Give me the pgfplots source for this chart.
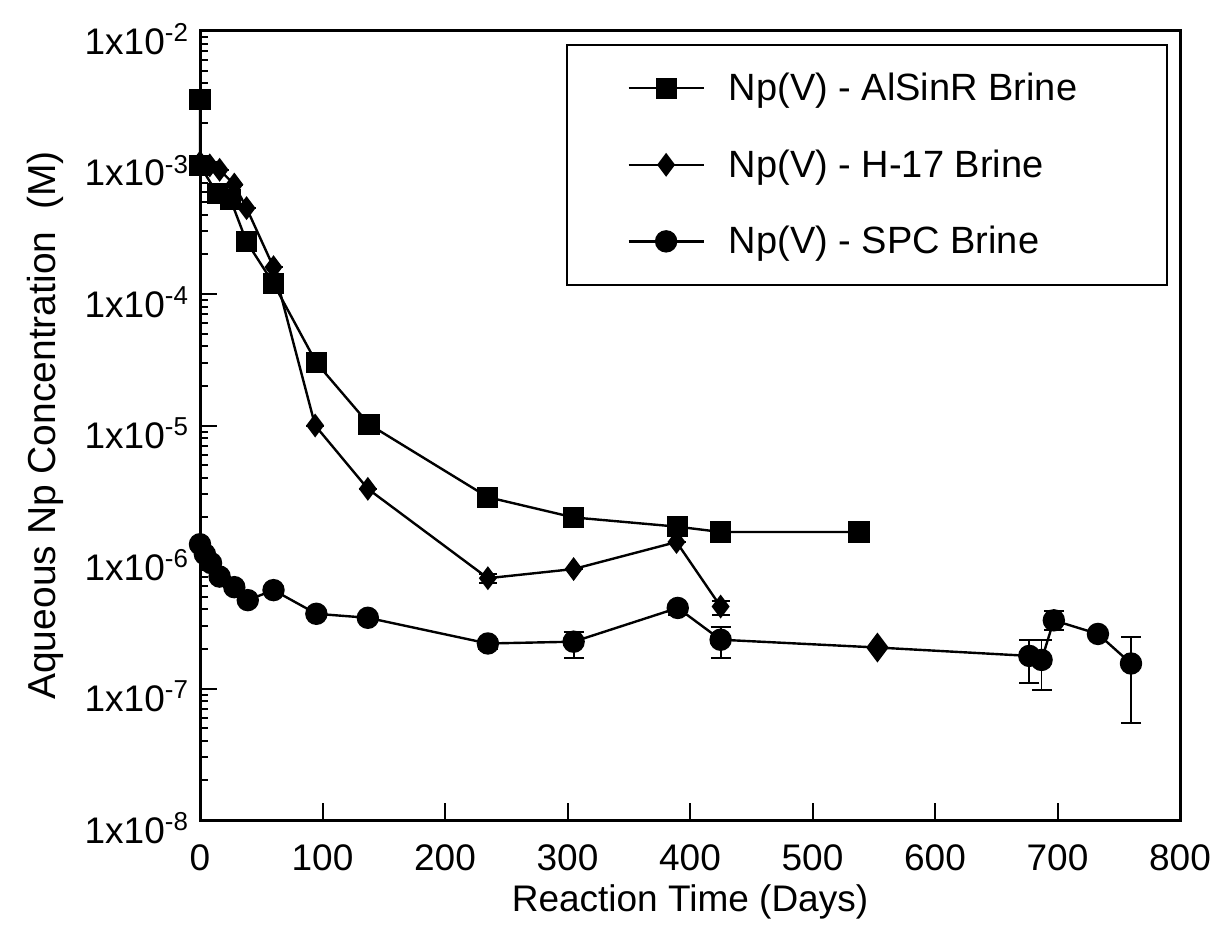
\documentclass[border=0pt]{standalone}
\usepackage{fontspec}
\setmainfont{Liberation Sans}
\usepackage{pgfplots}
\usepackage{pgfplotstable}
\pgfplotsset{compat=1.18}

% AlSinR brine
\pgfplotstableread{
x y
0 3.0e-3
0 9.5e-4
14 5.8e-4
25 5.2e-4
38 2.5e-4
60 1.2e-4
95 3.0e-5
138 1.02e-5
235 2.85e-6
305 2.0e-6
390 1.7e-6
425 1.55e-6
538 1.55e-6
}\alsinr

% H-17 brine
\pgfplotstableread{
x y ep em
0 1.0e-3 0 0
8 9.5e-4 0 0
16 8.8e-4 0 0
28 6.8e-4 0 0
38 4.5e-4 0 0
60 1.6e-4 0 0
94 1.0e-5 0 0
137 3.3e-6 0 0
235 6.9e-7 0.5e-7 0.5e-7
305 8.1e-7 0 0
389 1.3e-6 0 0
425 4.2e-7 0.4e-7 0.6e-7
}\hseventeen

% SPC brine, whole line
\pgfplotstableread{
x y
0 1.25e-6
4 1.05e-6
9 9.0e-7
16 7.1e-7
28 5.9e-7
39 4.7e-7
60 5.6e-7
95 3.7e-7
137 3.45e-7
235 2.2e-7
305 2.27e-7
390 4.1e-7
425 2.35e-7
553 2.05e-7
677 1.77e-7
687 1.65e-7
697 3.3e-7
733 2.6e-7
760 1.55e-7
}\spcline

% SPC brine, round marks with error bars
\pgfplotstableread{
x y ep em
0 1.25e-6 0 0
4 1.05e-6 0 0
9 9.0e-7 0 0
16 7.1e-7 0 0
28 5.9e-7 0 0
39 4.7e-7 0 0
60 5.6e-7 0 0
95 3.7e-7 0 0
137 3.45e-7 0 0
235 2.2e-7 0.2e-7 0.2e-7
305 2.27e-7 0.4e-7 0.57e-7
390 4.1e-7 0.3e-7 0.5e-7
425 2.35e-7 0.6e-7 0.65e-7
677 1.77e-7 0.57e-7 0.67e-7
687 1.65e-7 0.7e-7 0.67e-7
697 3.3e-7 0.6e-7 0.5e-7
733 2.6e-7 0 0
760 1.55e-7 0.9e-7 1.0e-7
}\spcmarks

\pgfplotstableread{
x y
553 2.05e-7
}\spcdiamond

\begin{document}
\begin{tikzpicture}
\begin{axis}[
    scale only axis,
    width=490pt,
    height=394.5pt,
    ymode=log,
    xmin=0, xmax=800,
    ymin=1e-8, ymax=1e-2,
    xtick={0,100,...,800},
    ytick={1e-8,1e-7,1e-6,1e-5,1e-4,1e-3,1e-2},
    yticklabels={1x10\textsuperscript{-8},1x10\textsuperscript{-7},1x10\textsuperscript{-6},
        1x10\textsuperscript{-5},1x10\textsuperscript{-4},1x10\textsuperscript{-3},1x10\textsuperscript{-2}},
    /pgf/number format/assume math mode=true,
    tick pos=left,
    tick align=inside,
    major tick length=8.5pt,
    minor tick length=4pt,
    every tick/.style={black, line width=1pt},
    axis line style={line width=1.5pt},
    tick label style={font=\fontsize{18.5}{20}\selectfont},
    xticklabel style={yshift=-9pt},
    yticklabel style={xshift=-2pt, yshift=-4pt},
    label style={font=\fontsize{18.5}{20}\selectfont},
    xlabel={Reaction Time (Days)},
    ylabel={Aqueous Np Concentration\ \ (M)},
    x label style={at={(axis description cs:0.5,-0.104)}, anchor=center},
    y label style={at={(axis description cs:-0.158,0.5)}, anchor=center,
        font=\fontsize{19.5}{21}\selectfont},
    legend image code/.code={
        \draw[mark repeat=2, mark phase=2, #1]
            plot coordinates {(0pt,0pt) (18.75pt,0pt) (37.5pt,0pt)};
    },
    legend cell align=left,
    legend style={
        at={(0.988,0.9835)}, anchor=north east,
        draw=black, line width=1pt,
        inner xsep=30pt, inner ysep=12pt,
        row sep=19pt,
        font=\fontsize{19}{21}\selectfont,
    },
    every axis plot/.append style={line width=1.2pt, black},
    clip=false,
]
\addplot[mark=square*, mark size=4.7pt, mark options={solid}] table[x=x, y=y] {\alsinr};
\addlegendentry{\hspace{10pt}Np(V) - AlSinR Brine\hspace*{13pt}\mbox{}}

\addplot[mark=diamond*, mark size=5pt, mark options={solid},
    error bars/.cd, y dir=both, y explicit,
    error bar style={line width=0.9pt}, error mark options={rotate=90, mark size=4.5pt, line width=1pt}]
    table[x=x, y=y, y error plus=ep, y error minus=em] {\hseventeen};
\addlegendentry{\hspace{10pt}Np(V) - H-17 Brine}

\addplot[forget plot, no marks] table[x=x, y=y] {\spcline};
\addplot[forget plot, only marks, mark=*, mark size=5pt,
    error bars/.cd, y dir=both, y explicit,
    error bar style={line width=0.9pt}, error mark options={rotate=90, mark size=5pt, line width=1pt}]
    table[x=x, y=y, y error plus=ep, y error minus=em] {\spcmarks};
\addplot[forget plot, only marks, mark=diamond*, mark size=6.5pt] table[x=x, y=y] {\spcdiamond};

\addlegendimage{black, line width=1.2pt, mark=*, mark size=5pt}
\addlegendentry{\hspace{10pt}Np(V) - SPC Brine}
\end{axis}
\pgfresetboundingbox
\useasboundingbox ([xshift=-100pt, yshift=-57pt]current axis.south west)
    rectangle ([xshift=17.5pt, yshift=15.5pt]current axis.north east);
\end{tikzpicture}
\end{document}
